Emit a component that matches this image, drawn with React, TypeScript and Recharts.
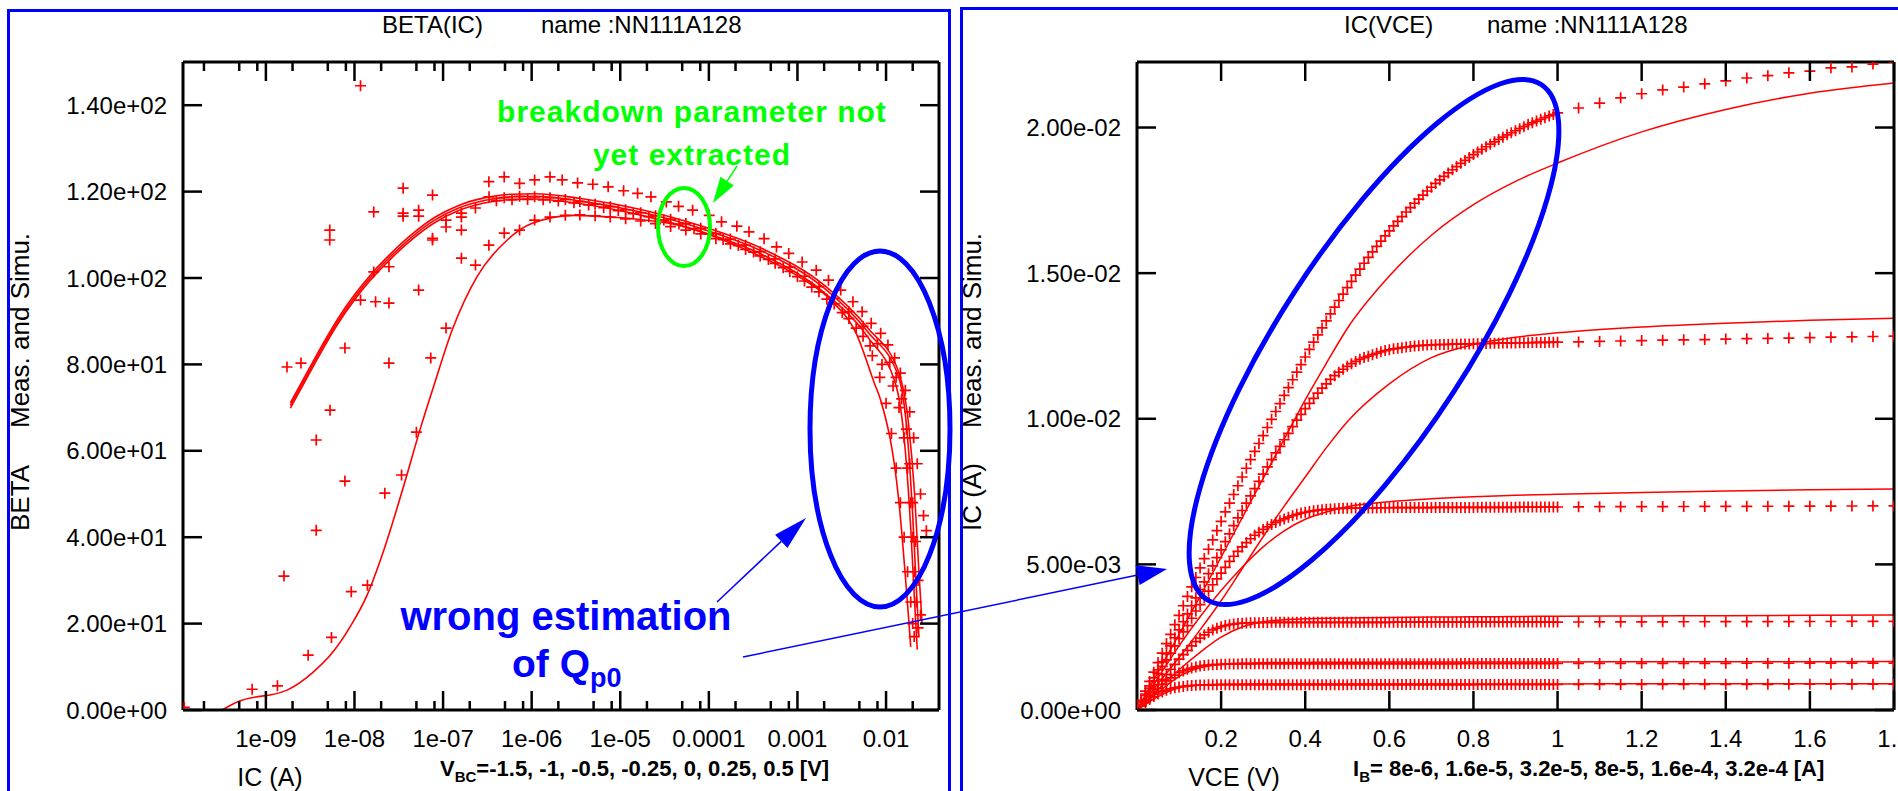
import React from "react";
import { ComposedChart, Line, Scatter, XAxis, YAxis } from "recharts";

const RED = "#ff0000";
const BLUE = "#0000ff";
const GREEN = "#00ff00";
const FONT = '"Liberation Sans", Arial, Helvetica, sans-serif';

type Pt = [number, number];

/* ---------- BETA(IC) (left panel) ---------- */

const icDomain = [1.16e-10, 0.0396];
const icMajorTicks = [1e-9, 1e-8, 1e-7, 1e-6, 1e-5, 1e-4, 1e-3, 1e-2];
const icTickLabels = ["1e-09", "1e-08", "1e-07", "1e-06", "1e-05", "0.0001", "0.001", "0.01"];
const icMinorTicks = [
  2e-10, 5e-10, 8e-10, 2e-9, 5e-9, 8e-9, 2e-8, 5e-8, 8e-8, 2e-7, 5e-7, 8e-7,
  2e-6, 5e-6, 8e-6, 2e-5, 5e-5, 8e-5, 2e-4, 5e-4, 8e-4, 2e-3, 5e-3, 8e-3, 2e-2,
];
const betaTicks = [0, 20, 40, 60, 80, 100, 120, 140];

// simulated curves (ic [A], beta)
const simBandA: Pt[] = [
  [1.89e-9, 71.1], [3e-9, 78.6], [4.5e-9, 85.1], [6.5e-9, 90.6], [1e-8, 96.1], [1.5e-8, 100.6], [2.5e-8, 105.4],
  [4.5e-8, 110.2], [8e-8, 114], [1.5e-7, 116.8], [3e-7, 118.6], [6e-7, 119.4], [1.1e-6, 119.5], [3.6e-6, 118.4],
  [1.75e-5, 115.8], [8.6e-5, 111.9], [4.2e-4, 106.6], [2.07e-3, 98.1], [6.3e-3, 88.3], [1.39e-2, 78.2],
  [1.8e-2, 66], [2.1e-2, 50], [2.35e-2, 32], [2.55e-2, 20],
];
const simBandB: Pt[] = [
  [1.89e-9, 70.5], [3e-9, 78], [4.5e-9, 84.5], [6.5e-9, 90], [1e-8, 95.5], [1.5e-8, 100], [2.5e-8, 104.8],
  [4.5e-8, 109.6], [8e-8, 113.4], [1.5e-7, 116.2], [3e-7, 118], [6e-7, 118.8], [1.1e-6, 118.9], [3.6e-6, 117.8],
  [1.75e-5, 115.2], [8.6e-5, 111.3], [4.2e-4, 106], [2.07e-3, 97.4], [6.3e-3, 87.4], [1.39e-2, 77],
  [1.75e-2, 63], [2.0e-2, 45], [2.2e-2, 28], [2.35e-2, 17],
];
const simBandC: Pt[] = [
  [1.89e-9, 69.9], [3e-9, 77.4], [4.5e-9, 83.9], [6.5e-9, 89.4], [1e-8, 94.9], [1.5e-8, 99.4], [2.5e-8, 104.2],
  [4.5e-8, 109], [8e-8, 112.8], [1.5e-7, 115.6], [3e-7, 117.4], [6e-7, 118.2], [1.1e-6, 118.3], [3.6e-6, 117.2],
  [1.75e-5, 114.5], [8.6e-5, 110.6], [4.2e-4, 105.2], [2.07e-3, 96.4], [6.3e-3, 86.2], [1.3e-2, 75],
  [1.65e-2, 60], [1.9e-2, 42], [2.1e-2, 25], [2.25e-2, 14],
];
const simThin: Pt[] = [
  [3.2e-10, 0], [4.8e-10, 1.9], [1.73e-9, 4.6], [3.3e-9, 8.5], [5.7e-9, 13.4], [9.2e-9, 19.7], [1.36e-8, 26.2],
  [2.2e-8, 37.7], [3.55e-8, 51.5], [5.7e-8, 66], [7.85e-8, 75], [1.27e-7, 88], [2.4e-7, 100.2],
  [5.3e-7, 108.8], [1e-6, 112.6], [3.05e-6, 114.5], [7.9e-6, 114.1], [5e-5, 112], [3e-4, 106],
  [1e-3, 100.5], [2.5e-3, 94.5], [4.6e-3, 87.2], [7.4e-3, 75.6], [8.7e-3, 71.7], [1.39e-2, 48.6], [1.9e-2, 14.6],
];

// measured points
const measNoise: Pt[] = [
  [1.2e-10, 0.6], [1.6e-9, 31], [1.73e-9, 79.4], [2.49e-9, 80.3], [3.7e-9, 41.6], [3.7e-9, 62.5],
  [5.26e-9, 111.1], [5.26e-9, 108.8], [5.3e-9, 69.4], [7.8e-9, 53], [7.8e-9, 83.8], [1.17e-8, 144.5],
  [1.17e-8, 94.9], [1.65e-8, 115.3], [1.65e-8, 101.4], [1.73e-8, 94.5], [2.45e-8, 102.6], [2.45e-8, 94.2],
  [2.45e-8, 80.3], [3.54e-8, 120.8], [3.54e-8, 115], [3.54e-8, 114.3], [5.3e-8, 115.7], [5.3e-8, 114.3],
  [5.3e-8, 97.2], [7.26e-8, 81.5], [7.6e-8, 119.2], [7.6e-8, 109.2], [7.6e-8, 108.8], [1.08e-7, 113.4],
  [1.08e-7, 111.8], [1.61e-7, 115], [1.61e-7, 114.1], [1.61e-7, 111.1], [2.32e-7, 116.2],
];
const measBreak: Pt[] = [
  [3.29e-7, 122.3], [4.9e-7, 123.4], [7.3e-7, 121.9], [1.08e-6, 122.7], [1.61e-6, 123.4], [2.21e-6, 122.7],
  [3.3e-6, 122], [4.9e-6, 121.7], [7.3e-6, 121.1], [1.09e-5, 120.2], [1.57e-5, 119.6], [2.22e-5, 118.8],
  [3.31e-5, 117.6], [4.55e-5, 116.6], [6.56e-5, 115.7], [1.01e-4, 114.5], [1.39e-4, 113], [2.07e-4, 112],
  [2.84e-4, 110.7], [4.2e-4, 109.1], [5.8e-4, 107.2], [7.98e-4, 105.7], [1.13e-3, 103.7], [1.63e-3, 101.8],
  [2.24e-3, 99.5], [3.08e-3, 97.2], [4.23e-3, 94.5], [5.37e-3, 92.2], [6.8e-3, 89.5], [8.7e-3, 87.2],
  [1.05e-2, 84.5], [1.25e-2, 81.5], [1.45e-2, 78], [1.65e-2, 74], [1.85e-2, 69], [2.05e-2, 63],
  [2.25e-2, 57], [2.45e-2, 50], [2.65e-2, 45], [2.85e-2, 41.5],
];
const measMidA: Pt[] = [
  [3.3e-7, 118.8], [4.9e-7, 118.6], [7.3e-7, 118.9], [1.08e-6, 118.8], [1.61e-6, 118.6], [2.4e-6, 118.2],
  [3.5e-6, 117.7], [5.2e-6, 117.1], [7.7e-6, 116.5], [1.15e-5, 115.8], [1.7e-5, 115.1], [2.5e-5, 114.4],
  [3.7e-5, 113.6], [5.5e-5, 112.6], [8.1e-5, 111.5], [1.2e-4, 110.3], [1.75e-4, 109], [2.6e-4, 107.6],
  [3.8e-4, 106.1], [5.6e-4, 104.4], [8.2e-4, 102.5], [1.2e-3, 100.4], [1.75e-3, 98], [2.6e-3, 95.3],
  [3.8e-3, 92.2], [5.5e-3, 88.8], [8e-3, 84.8], [1.1e-2, 80.5], [1.3e-2, 77], [1.5e-2, 72], [1.7e-2, 65],
  [1.85e-2, 57], [2.0e-2, 48], [2.15e-2, 39], [2.3e-2, 30], [2.45e-2, 22],
];
const measMidB: Pt[] = [
  [4e-7, 117.9], [6e-7, 118.1], [9e-7, 118.2], [1.35e-6, 118.1], [2e-6, 117.8], [3e-6, 117.4],
  [4.4e-6, 116.9], [6.5e-6, 116.3], [9.5e-6, 115.6], [1.4e-5, 114.9], [2.1e-5, 114.2], [3.1e-5, 113.4],
  [4.6e-5, 112.5], [6.8e-5, 111.4], [1e-4, 110.2], [1.45e-4, 108.9], [2.15e-4, 107.5], [3.2e-4, 106],
  [4.7e-4, 104.3], [6.9e-4, 102.4], [1e-3, 100.3], [1.45e-3, 97.9], [2.15e-3, 95.1], [3.2e-3, 92],
  [4.6e-3, 88.4], [6.6e-3, 84.3], [9e-3, 80], [1.2e-2, 75], [1.4e-2, 70], [1.6e-2, 63], [1.75e-2, 56],
  [1.9e-2, 48], [2.0e-2, 40], [2.1e-2, 32], [2.2e-2, 25], [2.3e-2, 19],
];
const measLow: Pt[] = [
  [7e-10, 4.8], [1.35e-9, 5.6], [3e-9, 12.7], [5.5e-9, 16.8], [9.2e-9, 27.4], [1.4e-8, 28.9], [2.2e-8, 50.2],
  [3.4e-8, 54.4], [5e-8, 64.3], [1.08e-7, 88.4], [1.61e-7, 104.6], [2.32e-7, 103], [3.29e-7, 107.6],
  [4.9e-7, 110.4], [7.3e-7, 111.1], [1.08e-6, 113.4], [1.61e-6, 114.1], [2.4e-6, 114.5], [3.5e-6, 114.6],
  [5.2e-6, 114.4], [7.7e-6, 114.1], [1.15e-5, 113.7], [1.7e-5, 113.2], [2.5e-5, 112.6], [3.7e-5, 111.9],
  [5.5e-5, 111.1], [8.1e-5, 110.2], [1.2e-4, 109.1], [1.75e-4, 107.9], [2.6e-4, 106.6], [3.8e-4, 105.1],
  [5.6e-4, 103.4], [8.2e-4, 101.5], [1.2e-3, 99.3], [1.75e-3, 96.8], [2.6e-3, 94], [3.8e-3, 90.6],
  [5.5e-3, 86.5], [7e-3, 82], [8.5e-3, 77], [1e-2, 71], [1.15e-2, 64], [1.3e-2, 56], [1.45e-2, 48],
  [1.6e-2, 40], [1.75e-2, 32], [1.9e-2, 25], [2.0e-2, 20], [2.08e-2, 17],
];

/* ---------- IC(VCE) (right panel) ---------- */

const vceTicks = [0.2, 0.4, 0.6, 0.8, 1, 1.2, 1.4, 1.6, 1.8];
const icTicks = [0, 0.005, 0.01, 0.015, 0.02];

const vceDense = [
  0, 0.01, 0.02, 0.03, 0.04, 0.05, 0.06, 0.07, 0.08, 0.09,
  0.1, 0.11, 0.12, 0.13, 0.14, 0.15, 0.16, 0.17, 0.18, 0.19,
  0.2, 0.21, 0.22, 0.23, 0.24, 0.25, 0.26, 0.27, 0.28, 0.29,
  0.3, 0.31, 0.32, 0.33, 0.34, 0.35, 0.36, 0.37, 0.38, 0.39,
  0.4, 0.41, 0.42, 0.43, 0.44, 0.45, 0.46, 0.47, 0.48, 0.49,
  0.5, 0.51, 0.52, 0.53, 0.54, 0.55, 0.56, 0.57, 0.58, 0.59,
  0.6, 0.61, 0.62, 0.63, 0.64, 0.65, 0.66, 0.67, 0.68, 0.69,
  0.7, 0.71, 0.72, 0.73, 0.74, 0.75, 0.76, 0.77, 0.78, 0.79,
  0.8, 0.81, 0.82, 0.83, 0.84, 0.85, 0.86, 0.87, 0.88, 0.89,
  0.9, 0.91, 0.92, 0.93, 0.94, 0.95, 0.96, 0.97, 0.98, 0.99,
  1,
];
const vceSparse = [1.05, 1.1, 1.15, 1.2, 1.25, 1.3, 1.35, 1.4, 1.45, 1.5, 1.55, 1.6, 1.65, 1.7, 1.75, 1.8];
const vceSim = [0, 0.05, 0.1, 0.15, 0.2, 0.25, 0.3, 0.35, 0.4, 0.45, 0.5, 0.6, 0.7, 0.8, 0.9, 1, 1.2, 1.4, 1.6, 1.8];

// measured IC in mA: 101 values on vceDense, then 16 on vceSparse
const measIb8e6 = [
  0, 0.13, 0.25, 0.36, 0.46, 0.55, 0.62, 0.68, 0.73, 0.76,
  0.79, 0.81, 0.83, 0.84, 0.85, 0.855, 0.86, 0.863, 0.865, 0.867,
  0.868, 0.87, 0.87, 0.87, 0.87, 0.87, 0.87, 0.87, 0.87, 0.87,
  0.87, 0.87, 0.87, 0.87, 0.87, 0.87, 0.87, 0.87, 0.87, 0.87,
  0.87, 0.87, 0.87, 0.87, 0.87, 0.87, 0.87, 0.87, 0.87, 0.87,
  0.87, 0.872, 0.872, 0.872, 0.872, 0.872, 0.872, 0.872, 0.872, 0.872,
  0.872, 0.872, 0.872, 0.872, 0.872, 0.872, 0.872, 0.872, 0.872, 0.872,
  0.872, 0.872, 0.872, 0.872, 0.872, 0.872, 0.872, 0.872, 0.872, 0.872,
  0.872, 0.875, 0.875, 0.875, 0.875, 0.875, 0.875, 0.875, 0.875, 0.875,
  0.875, 0.875, 0.875, 0.875, 0.875, 0.875, 0.875, 0.875, 0.875, 0.875,
  0.875,
  0.876, 0.877, 0.878, 0.879, 0.88, 0.88, 0.881, 0.882, 0.882, 0.883, 0.884, 0.884, 0.885, 0.886, 0.886, 0.887,
];
const measIb16e6 = [
  0, 0.15, 0.3, 0.45, 0.6, 0.74, 0.88, 1.0, 1.1, 1.2,
  1.28, 1.34, 1.4, 1.44, 1.48, 1.51, 1.53, 1.545, 1.555, 1.563,
  1.57, 1.575, 1.578, 1.58, 1.583, 1.585, 1.586, 1.587, 1.588, 1.588,
  1.588, 1.588, 1.588, 1.588, 1.588, 1.588, 1.588, 1.588, 1.588, 1.588,
  1.588, 1.588, 1.588, 1.588, 1.588, 1.588, 1.588, 1.588, 1.588, 1.588,
  1.588, 1.592, 1.592, 1.592, 1.592, 1.592, 1.592, 1.592, 1.592, 1.592,
  1.592, 1.592, 1.592, 1.592, 1.592, 1.592, 1.592, 1.592, 1.592, 1.592,
  1.592, 1.592, 1.592, 1.592, 1.592, 1.592, 1.592, 1.596, 1.596, 1.596,
  1.596, 1.596, 1.596, 1.596, 1.596, 1.596, 1.596, 1.596, 1.596, 1.596,
  1.596, 1.596, 1.596, 1.596, 1.596, 1.596, 1.596, 1.596, 1.596, 1.596,
  1.596,
  1.598, 1.6, 1.6, 1.601, 1.602, 1.603, 1.604, 1.604, 1.605, 1.606, 1.606, 1.607, 1.608, 1.608, 1.609, 1.61,
];
const measIb32e6 = [
  0, 0.17, 0.35, 0.52, 0.7, 0.87, 1.05, 1.22, 1.4, 1.57,
  1.75, 1.9, 2.05, 2.2, 2.35, 2.47, 2.58, 2.67, 2.75, 2.81,
  2.86, 2.9, 2.93, 2.95, 2.97, 2.98, 2.99, 2.995, 3.0, 3.0,
  3.005, 3.005, 3.01, 3.01, 3.01, 3.01, 3.01, 3.01, 3.01, 3.01,
  3.01, 3.01, 3.01, 3.01, 3.01, 3.01, 3.01, 3.01, 3.01, 3.01,
  3.01, 3.01, 3.01, 3.01, 3.01, 3.01, 3.01, 3.01, 3.01, 3.01,
  3.01, 3.015, 3.015, 3.015, 3.015, 3.015, 3.015, 3.015, 3.015, 3.015,
  3.015, 3.015, 3.015, 3.015, 3.015, 3.015, 3.015, 3.015, 3.015, 3.015,
  3.015, 3.02, 3.02, 3.02, 3.02, 3.02, 3.02, 3.02, 3.02, 3.02,
  3.02, 3.02, 3.02, 3.02, 3.02, 3.02, 3.02, 3.02, 3.02, 3.02,
  3.02,
  3.022, 3.024, 3.025, 3.027, 3.028, 3.03, 3.031, 3.032, 3.034, 3.035, 3.036, 3.038, 3.039, 3.04, 3.041, 3.043,
];
const measIb80e6 = [
  0, 0.25, 0.5, 0.75, 1.0, 1.25, 1.5, 1.72, 1.95, 2.2,
  2.45, 2.68, 2.9, 3.15, 3.4, 3.62, 3.85, 4.08, 4.3, 4.5,
  4.7, 4.9, 5.1, 5.28, 5.45, 5.6, 5.75, 5.88, 6.0, 6.1,
  6.2, 6.29, 6.37, 6.44, 6.5, 6.56, 6.62, 6.67, 6.72, 6.76,
  6.79, 6.82, 6.84, 6.86, 6.88, 6.89, 6.9, 6.91, 6.92, 6.925,
  6.93, 6.935, 6.935, 6.935, 6.94, 6.94, 6.94, 6.94, 6.945, 6.945,
  6.945, 6.95, 6.95, 6.95, 6.95, 6.95, 6.95, 6.95, 6.95, 6.95,
  6.95, 6.955, 6.955, 6.955, 6.955, 6.955, 6.955, 6.955, 6.955, 6.955,
  6.955, 6.96, 6.96, 6.96, 6.96, 6.96, 6.96, 6.96, 6.96, 6.96,
  6.96, 6.97, 6.97, 6.97, 6.97, 6.97, 6.97, 6.97, 6.97, 6.97,
  6.97,
  6.977, 6.98, 6.982, 6.984, 6.986, 6.988, 6.99, 6.992, 6.994, 6.996, 6.998, 7.0, 7.002, 7.004, 7.006, 7.008,
];
const measIb160e6 = [
  0, 0.28, 0.55, 0.83, 1.1, 1.38, 1.65, 1.93, 2.2, 2.48,
  2.75, 3.03, 3.3, 3.58, 3.85, 4.13, 4.4, 4.68, 4.95, 5.23,
  5.5, 5.78, 6.05, 6.33, 6.6, 6.85, 7.1, 7.35, 7.6, 7.85,
  8.1, 8.35, 8.6, 8.83, 9.05, 9.28, 9.5, 9.73, 9.95, 10.15,
  10.35, 10.53, 10.7, 10.88, 11.05, 11.2, 11.35, 11.48, 11.6, 11.7,
  11.8, 11.89, 11.97, 12.04, 12.1, 12.15, 12.2, 12.25, 12.3, 12.34,
  12.37, 12.4, 12.42, 12.44, 12.46, 12.48, 12.5, 12.51, 12.52, 12.53,
  12.54, 12.545, 12.55, 12.55, 12.555, 12.56, 12.56, 12.565, 12.57, 12.57,
  12.575, 12.58, 12.58, 12.585, 12.59, 12.59, 12.595, 12.6, 12.6, 12.6,
  12.605, 12.61, 12.61, 12.61, 12.615, 12.62, 12.62, 12.62, 12.625, 12.63,
  12.63,
  12.64, 12.655, 12.67, 12.685, 12.7, 12.71, 12.72, 12.735, 12.75, 12.76, 12.77, 12.785, 12.8, 12.81, 12.825, 12.84,
];
const measIb320e6 = [
  0, 0.33, 0.65, 0.98, 1.3, 1.63, 1.95, 2.28, 2.6, 2.93,
  3.25, 3.58, 3.9, 4.23, 4.55, 4.88, 5.2, 5.52, 5.84, 6.16,
  6.48, 6.8, 7.1, 7.4, 7.7, 8.0, 8.3, 8.6, 8.88, 9.15,
  9.42, 9.7, 9.98, 10.25, 10.52, 10.8, 11.07, 11.34, 11.6, 11.86,
  12.12, 12.38, 12.63, 12.88, 13.12, 13.36, 13.6, 13.83, 14.06, 14.28,
  14.5, 14.72, 14.93, 15.14, 15.34, 15.54, 15.73, 15.92, 16.1, 16.28,
  16.45, 16.62, 16.78, 16.94, 17.1, 17.25, 17.4, 17.54, 17.68, 17.82,
  17.95, 18.08, 18.2, 18.32, 18.44, 18.55, 18.66, 18.77, 18.87, 18.97,
  19.07, 19.16, 19.25, 19.34, 19.43, 19.51, 19.59, 19.67, 19.75, 19.82,
  19.89, 19.96, 20.03, 20.1, 20.16, 20.22, 20.28, 20.34, 20.4, 20.45,
  20.5,
  20.67, 20.84, 21.02, 21.16, 21.29, 21.39, 21.5, 21.6, 21.7, 21.78, 21.88, 21.94, 22.05, 22.08, 22.18, 22.25,
];

// simulated IC in mA, on vceSim
const simIb8e6 = [0, 0.46, 0.76, 0.86, 0.885, 0.89, 0.895, 0.895, 0.895, 0.895, 0.895, 0.895, 0.895, 0.895, 0.895, 0.897, 0.898, 0.9, 0.9, 0.9];
const simIb16e6 = [0, 0.6, 1.15, 1.45, 1.57, 1.61, 1.625, 1.63, 1.635, 1.64, 1.64, 1.645, 1.645, 1.65, 1.65, 1.65, 1.655, 1.66, 1.66, 1.665];
const simIb32e6 = [0, 0.7, 1.38, 1.98, 2.5, 2.85, 3.03, 3.1, 3.13, 3.15, 3.16, 3.18, 3.19, 3.2, 3.21, 3.22, 3.23, 3.24, 3.25, 3.26];
const simIb80e6 = [0, 1.1, 2.2, 3.2, 4.1, 4.9, 5.6, 6.15, 6.55, 6.8, 6.98, 7.15, 7.25, 7.32, 7.37, 7.41, 7.47, 7.52, 7.56, 7.59];
const simIb160e6 = [0, 0.9, 1.8, 2.75, 3.75, 4.85, 5.95, 7.0, 8.0, 9.0, 9.9, 11.2, 12.1, 12.55, 12.8, 12.95, 13.15, 13.28, 13.38, 13.45];
const simIb320e6 = [0, 1.3, 2.6, 3.9, 5.25, 6.6, 7.95, 9.3, 10.65, 11.9, 13.1, 14.9, 16.3, 17.35, 18.15, 18.78, 19.85, 20.62, 21.18, 21.53];

/* ---------- helpers ---------- */

const pairs = (list: Pt[]) => list.map(([x, y]) => ({ x, y }));
const zipMa = (xs: number[], ys: number[]) => xs.map((x, i) => ({ x, y: ys[i] / 1000 }));
const vceMeas = [...vceDense, ...vceSparse];

function fmtE(v: number) {
  const [m, e] = v.toExponential(2).split("e");
  const sign = e[0] === "-" ? "-" : "+";
  return `${m}e${sign}${e.replace(/[+-]/, "").padStart(2, "0")}`;
}

function isMajorLog(v: number) {
  return icMajorTicks.some((m) => Math.abs(v - m) / m < 1e-6);
}

type TickArgs = { x?: number; y?: number; payload?: { value: number } };

const tickText = { fontSize: 24, fontFamily: FONT, fill: "#000" } as const;

function xTick(side: "top" | "bottom", label: (v: number) => string | null, isMajor: (v: number) => boolean) {
  return (p: TickArgs) => {
    const x = p.x ?? 0;
    const y = p.y ?? 0;
    const v = p.payload?.value ?? 0;
    const len = isMajor(v) ? 19 : 9;
    const dir = side === "top" ? 1 : -1;
    const text = side === "bottom" ? label(v) : null;
    return (
      <g>
        <line x1={x} x2={x} y1={y} y2={y + dir * len} stroke="#000" strokeWidth={2.5} />
        {text && (
          <text x={x} y={y + 28} textAnchor="middle" dominantBaseline="central" {...tickText}>
            {text}
          </text>
        )}
      </g>
    );
  };
}

function yTick(side: "left" | "right", label: (v: number) => string) {
  return (p: TickArgs) => {
    const x = p.x ?? 0;
    const y = p.y ?? 0;
    const v = p.payload?.value ?? 0;
    const dir = side === "left" ? 1 : -1;
    return (
      <g>
        <line x1={x} x2={x + dir * 19} y1={y} y2={y} stroke="#000" strokeWidth={2.5} />
        {side === "left" && (
          <text x={x - 16} y={y} textAnchor="end" dominantBaseline="central" {...tickText}>
            {label(v)}
          </text>
        )}
      </g>
    );
  };
}

function Plus(props: { cx?: number; cy?: number }) {
  const { cx, cy } = props;
  if (cx == null || cy == null) return <g />;
  return <path d={`M${cx - 5.5},${cy}h11M${cx},${cy - 5.5}v11`} stroke={RED} strokeWidth={1.7} fill="none" />;
}

const frame = { stroke: "#000", strokeWidth: 3 };

// axes are 1px thick boxes so that the axis line lands exactly on the plot edge
const axisBase = {
  type: "number" as const,
  allowDataOverflow: true,
  interval: 0 as const,
  tickSize: 0,
  tickMargin: 0,
  tickLine: false,
  axisLine: frame,
};

function BetaChart() {
  const icLabel = (v: number) => {
    const i = icMajorTicks.findIndex((m) => Math.abs(v - m) / m < 1e-6);
    return i >= 0 ? icTickLabels[i] : null;
  };
  const allTicks = [...icMajorTicks, ...icMinorTicks].sort((a, b) => a - b);
  const sims = [simBandA, simBandB, simBandC, simThin];
  const meas = [measNoise, measLow, measMidB, measMidA, measBreak];
  return (
    <ComposedChart width={951} height={791} margin={{ top: 61, left: 182, right: 11, bottom: 80 }}>
      <XAxis {...axisBase} xAxisId="b" dataKey="x" scale="log" domain={icDomain} ticks={allTicks} height={1}
        tick={xTick("bottom", icLabel, isMajorLog)} />
      <XAxis {...axisBase} xAxisId="t" orientation="top" dataKey="x" scale="log" domain={icDomain} ticks={allTicks}
        height={1} tick={xTick("top", icLabel, isMajorLog)} />
      <YAxis {...axisBase} yAxisId="l" dataKey="y" domain={[0, 150]} ticks={betaTicks} width={1}
        tick={yTick("left", fmtE)} />
      <YAxis {...axisBase} yAxisId="r" orientation="right" dataKey="y" domain={[0, 150]} ticks={betaTicks} width={1}
        tick={yTick("right", fmtE)} />
      {sims.map((s, i) => (
        <Line
          key={`s${i}`}
          xAxisId="b"
          yAxisId="l"
          data={pairs(s)}
          dataKey="y"
          type="monotone"
          stroke={RED}
          strokeWidth={1.6}
          dot={false}
          isAnimationActive={false}
        />
      ))}
      {meas.map((m, i) => (
        <Scatter
          key={`m${i}`}
          xAxisId="b"
          yAxisId="l"
          data={pairs(m)}
          shape={(p: any) => <Plus cx={p.cx} cy={p.cy} />}
          isAnimationActive={false}
        />
      ))}
    </ComposedChart>
  );
}

function IcChart() {
  const sims = [simIb8e6, simIb16e6, simIb32e6, simIb80e6, simIb160e6, simIb320e6];
  const meas = [measIb8e6, measIb16e6, measIb32e6, measIb80e6, measIb160e6, measIb320e6];
  const vLabel = (v: number) => String(v);
  const yDomain = [0, 0.02225];
  return (
    <ComposedChart width={948} height={791} margin={{ top: 61, left: 186, right: 3, bottom: 80 }}>
      <XAxis {...axisBase} xAxisId="b" dataKey="x" domain={[0, 1.8]} ticks={vceTicks} height={1}
        tick={xTick("bottom", vLabel, () => true)} />
      <XAxis {...axisBase} xAxisId="t" orientation="top" dataKey="x" domain={[0, 1.8]} ticks={vceTicks} height={1}
        tick={xTick("top", vLabel, () => true)} />
      <YAxis {...axisBase} yAxisId="l" dataKey="y" domain={yDomain} ticks={icTicks} width={1}
        tick={yTick("left", fmtE)} />
      <YAxis {...axisBase} yAxisId="r" orientation="right" dataKey="y" domain={yDomain} ticks={icTicks} width={1}
        tick={yTick("right", fmtE)} />
      {sims.map((s, i) => (
        <Line
          key={`s${i}`}
          xAxisId="b"
          yAxisId="l"
          data={zipMa(vceSim, s)}
          dataKey="y"
          type="monotone"
          stroke={RED}
          strokeWidth={1.5}
          dot={false}
          isAnimationActive={false}
        />
      ))}
      {meas.map((m, i) => (
        <Scatter
          key={`m${i}`}
          xAxisId="b"
          yAxisId="l"
          data={zipMa(vceMeas, m)}
          shape={(p: any) => <Plus cx={p.cx} cy={p.cy} />}
          isAnimationActive={false}
        />
      ))}
    </ComposedChart>
  );
}

function Arrow({ x1, y1, x2, y2, color, head, half, width }: {
  x1: number; y1: number; x2: number; y2: number; color: string; head: number; half: number; width: number;
}) {
  const len = Math.hypot(x2 - x1, y2 - y1);
  const ux = (x2 - x1) / len;
  const uy = (y2 - y1) / len;
  const bx = x2 - ux * head;
  const by = y2 - uy * head;
  const pts = `${x2},${y2} ${bx - uy * half},${by + ux * half} ${bx + uy * half},${by - ux * half}`;
  return (
    <g>
      <line x1={x1} y1={y1} x2={bx} y2={by} stroke={color} strokeWidth={width} />
      <polygon points={pts} fill={color} />
    </g>
  );
}

function Annotations() {
  const t = { fontFamily: FONT, fill: "#000" } as const;
  return (
    <svg width={1898} height={791} style={{ position: "absolute", left: 0, top: 0 }}>
      {/* titles */}
      <text x={382} y={24} dominantBaseline="central" fontSize={24} {...t}>BETA(IC)</text>
      <text x={541} y={24} dominantBaseline="central" fontSize={24} {...t}>name :NN111A128</text>
      <text x={1344} y={24} dominantBaseline="central" fontSize={24} {...t}>IC(VCE)</text>
      <text x={1487} y={24} dominantBaseline="central" fontSize={24} {...t}>name :NN111A128</text>

      {/* axis titles */}
      <text x={20} y={531} transform="rotate(-90 20 531)" dominantBaseline="central" fontSize={26} {...t}>BETA</text>
      <text x={20} y={428} transform="rotate(-90 20 428)" dominantBaseline="central" fontSize={26} {...t}>Meas. and Simu.</text>
      <text x={972} y={531} transform="rotate(-90 972 531)" dominantBaseline="central" fontSize={26} {...t}>IC (A)</text>
      <text x={972} y={428} transform="rotate(-90 972 428)" dominantBaseline="central" fontSize={26} {...t}>Meas. and Simu.</text>
      <text x={270} y={777} textAnchor="middle" dominantBaseline="central" fontSize={25} {...t}>IC (A)</text>
      <text x={1234} y={777} textAnchor="middle" dominantBaseline="central" fontSize={25} {...t}>VCE (V)</text>

      {/* bias conditions */}
      <text x={440} y={776} fontSize={22} fontWeight="bold" {...t}>
        V<tspan fontSize={15} dy={6}>BC</tspan>
        <tspan dy={-6}>=-1.5, -1, -0.5, -0.25, 0, 0.25, 0.5 [V]</tspan>
      </text>
      <text x={1353} y={776} fontSize={22} fontWeight="bold" {...t}>
        I<tspan fontSize={15} dy={6}>B</tspan>
        <tspan dy={-6}>= 8e-6, 1.6e-5, 3.2e-5, 8e-5, 1.6e-4, 3.2e-4 [A]</tspan>
      </text>

      {/* green note */}
      <ellipse cx={684} cy={227} rx={26} ry={39} fill="none" stroke={GREEN} strokeWidth={4} />
      <Arrow x1={737} y1={166} x2={713} y2={203} color={GREEN} head={26} half={8} width={1.5} />
      <text x={692} y={111} textAnchor="middle" dominantBaseline="central" fontSize={30} fontWeight="bold"
        letterSpacing={1} fontFamily={FONT} fill={GREEN}>breakdown parameter not</text>
      <text x={692} y={154} textAnchor="middle" dominantBaseline="central" fontSize={30} fontWeight="bold"
        letterSpacing={1} fontFamily={FONT} fill={GREEN}>yet extracted</text>

      {/* blue note */}
      <ellipse cx={880} cy={429} rx={70} ry={178} fill="none" stroke={BLUE} strokeWidth={5} />
      <ellipse cx={1374} cy={342} rx={307} ry={94} transform="rotate(-57 1374 342)" fill="none" stroke={BLUE} strokeWidth={5} />
      <Arrow x1={717} y1={602} x2={806} y2={518} color={BLUE} head={34} half={9} width={1.5} />
      <Arrow x1={743} y1={657} x2={1167} y2={569} color={BLUE} head={30} half={10} width={1.5} />
      <text x={566} y={616} textAnchor="middle" dominantBaseline="central" fontSize={40} fontWeight="bold"
        fontFamily={FONT} fill={BLUE}>wrong estimation</text>
      <text x={512} y={677} fontSize={39} fontWeight="bold" fontFamily={FONT} fill={BLUE}>
        of Q<tspan fontSize={27} dy={10}>p0</tspan>
      </text>
    </svg>
  );
}

export default function App() {
  return (
    <div style={{ position: "fixed", left: 0, top: 0, width: 1898, height: 791, overflow: "hidden", background: "#fff" }}>
      <div style={{ position: "absolute", left: 7, top: 9, width: 944, height: 800, border: `3px solid ${BLUE}`, boxSizing: "border-box" }} />
      <div style={{ position: "absolute", left: 960, top: 7, width: 1000, height: 800, border: `3px solid ${BLUE}`, boxSizing: "border-box" }} />
      <div style={{ position: "absolute", left: 0, top: 0 }}>
        <BetaChart />
      </div>
      <div style={{ position: "absolute", left: 950, top: 0 }}>
        <IcChart />
      </div>
      <Annotations />
    </div>
  );
}
